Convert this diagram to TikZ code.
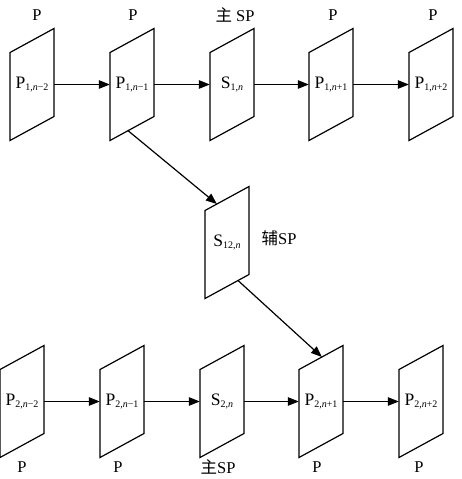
\documentclass[tikz,border=0pt]{standalone}
\usepackage{fontspec}
\setmainfont{Liberation Serif}
\newfontfamily\cjk{Noto Sans CJK SC}
\usetikzlibrary{
    arrows.meta,
    positioning,
    calc
}
\newcommand{\subidx}[1]{\raisebox{-1.2pt}{\fontsize{10}{11}\selectfont #1}}
\tikzset{
    frame/.style={
        minimum width=44pt,
        minimum height=64pt,
        inner sep=0pt,
        font=\fontsize{17.5}{19}\selectfont
    }
}
\tikzset{
    sheet/.style={
        draw,
        line width=1.2pt,
        line join=miter
    }
}
\tikzset{
    flow/.style={
        draw,
        line width=1.2pt,
        -{Triangle[length=11pt, width=8.5pt]}
    }
}
\tikzset{
    tag/.style={
        font=\fontsize{16.5}{18}\selectfont,
        inner sep=0pt
    }
}

\begin{document}
\begin{tikzpicture}[x=1pt, y=-1pt]
\useasboundingbox (0,0) rectangle (462,479);

% ------------------------------------------------------------
% Row 1: primary stream
% ------------------------------------------------------------
\node[frame] (p1m2) at (32,84.5)  {P\subidx{1,\textit{n}−2}};
\node[frame] (p1m1) at (132,84.5) {P\subidx{1,\textit{n}−1}};
\node[frame] (s1n)  at (232,84.5) {S\subidx{1,\textit{n}}};
\node[frame] (p1p1) at (331,84.5) {P\subidx{1,\textit{n}+1}};
\node[frame] (p1p2) at (431,84.5) {P\subidx{1,\textit{n}+2}};

\node[tag] at (37,15)  {P};
\node[tag] at (133,15) {P};
\node[tag] at (235,15) {{\cjk 主} SP};
\node[tag] at (333,15) {P};
\node[tag] at (433,15) {P};

% ------------------------------------------------------------
% Secondary switching picture
% ------------------------------------------------------------
\node[frame] (s12n) at (227,242.5) {S\subidx{12,\textit{n}}};
\node[tag] at (279,238) {{\cjk 辅}SP};

% ------------------------------------------------------------
% Row 2: second stream
% ------------------------------------------------------------
\node[frame] (p2m2) at (22,401.5)  {P\subidx{2,\textit{n}−2}};
\node[frame] (p2m1) at (122,401.5) {P\subidx{2,\textit{n}−1}};
\node[frame] (s2n)  at (222,401.5) {S\subidx{2,\textit{n}}};
\node[frame] (p2p1) at (321,401.5) {P\subidx{2,\textit{n}+1}};
\node[frame] (p2p2) at (421,401.5) {P\subidx{2,\textit{n}+2}};

\node[tag] at (22,467)  {P};
\node[tag] at (118,467) {P};
\node[tag] at (218,467) {{\cjk 主}SP};
\node[tag] at (317,467) {P};
\node[tag] at (419,467) {P};

% Slanted picture outlines
\foreach \f in {p1m2, p1m1, s1n, p1p1, p1p2, s12n, p2m2, p2m1, s2n, p2p1, p2p2} {
    \coordinate (\f-tl) at ($(\f.center)+(-22,-32)$);
    \coordinate (\f-tr) at ($(\f.center)+(22,-56)$);
    \coordinate (\f-br) at ($(\f.center)+(22,32)$);
    \coordinate (\f-bl) at ($(\f.center)+(-22,56)$);
    \draw[sheet] (\f-tl) -- (\f-tr) -- (\f-br) -- (\f-bl) -- cycle;
}

% Prediction along each row
\foreach \a/\b in {p1m2/p1m1, p1m1/s1n, s1n/p1p1, p1p1/p1p2,
                   p2m2/p2m1, p2m1/s2n, s2n/p2p1, p2p1/p2p2} {
    \draw[flow] (\a) -- (\b);
}

% Switching path through the secondary picture
\coordinate (out1) at ($(p1m1-bl)!0.41!(p1m1-br)$);
\coordinate (in1)  at ($(s12n-tl)!0.27!(s12n-tr)$);
\coordinate (out2) at ($(s12n-bl)!0.75!(s12n-br)$);
\coordinate (in2)  at ($(p2p1-tl)!0.52!(p2p1-tr)$);
\draw[flow] (out1) -- (in1);
\draw[flow] (out2) -- (in2);

\end{tikzpicture}
\end{document}
